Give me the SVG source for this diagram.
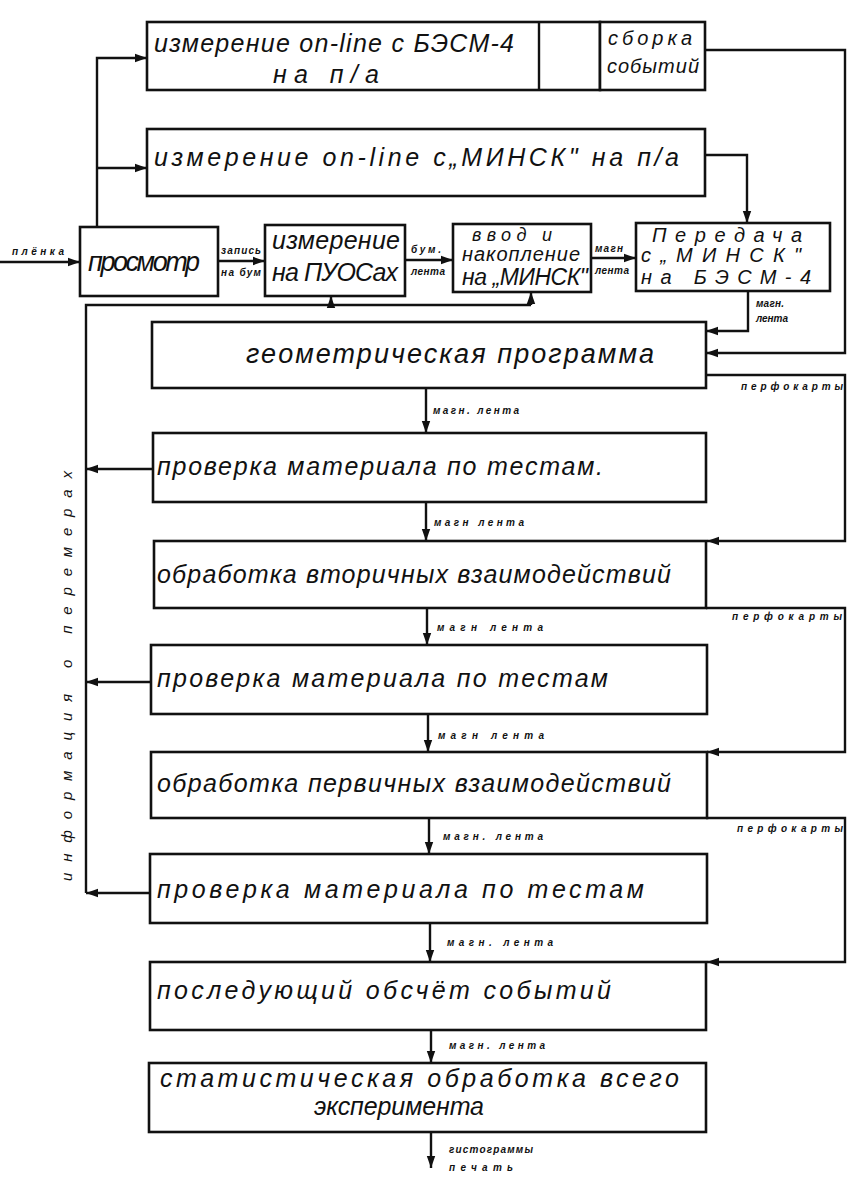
<svg xmlns="http://www.w3.org/2000/svg" width="848" height="1183" viewBox="0 0 848 1183">
<style>
.box{fill:#fff;stroke:#111;stroke-width:2.6}
.ln{fill:none;stroke:#111;stroke-width:2.4}
.ar{fill:none;stroke:#111;stroke-width:2.4;marker-end:url(#ah)}
.t{font-family:"Liberation Sans","DejaVu Sans",sans-serif;font-style:italic;font-size:25px;fill:#111}
.tb{font-family:"Liberation Sans","DejaVu Sans",sans-serif;font-style:italic;font-size:27px;fill:#111}
.m{font-family:"Liberation Sans","DejaVu Sans",sans-serif;font-style:italic;font-size:20px;fill:#111}
.s{font-family:"Liberation Sans","DejaVu Sans",sans-serif;font-style:italic;font-weight:bold;font-size:10px;fill:#111}
</style>
<defs>
<marker id="ah" viewBox="0 0 10 10" refX="10" refY="5" markerWidth="5" markerHeight="5" orient="auto" markerUnits="strokeWidth">
<path d="M0,1.5 L10,5 L0,8.5 z" fill="#111"/>
</marker>
</defs>
<rect width="848" height="1183" fill="#fff"/>

<g id="connectors">
<path class="ar" d="M0,262 H80"/>
<path class="ar" d="M218,261 H265"/>
<path class="ar" d="M405,260 H453"/>
<path class="ar" d="M591,258 H636"/>
<path class="ar" d="M97,227 V58 H147"/>
<path class="ar" d="M97,168 H147"/>
<path class="ar" d="M539,51 H600"/>
<path class="ar" d="M705,50 H845 V353 H706"/>
<path class="ar" d="M705,155 H747 V223"/>
<path class="ar" d="M748,291 V331 H706"/>
<path class="ar" d="M706,375 H845 V541 H707"/>
<path class="ar" d="M706,608 H845 V752 H707"/>
<path class="ar" d="M706,818 H845 V962 H707"/>
<path class="ar" d="M153,469 H86"/>
<path class="ar" d="M151,682 H86"/>
<path class="ar" d="M150,893 H86"/>
<path class="ln" d="M86,893 V305 H531"/>
<path class="ar" d="M531,305 V292"/>
<path class="ar" d="M331,305 V296"/>
<path class="ar" d="M426,388 V433"/>
<path class="ar" d="M426,502 V541"/>
<path class="ar" d="M427,608 V645"/>
<path class="ar" d="M428,714 V752"/>
<path class="ar" d="M429,818 V854"/>
<path class="ar" d="M430,923 V962"/>
<path class="ar" d="M431,1030 V1063"/>
<path class="ar" d="M431,1132 V1168"/>
<text class="s" x="12" y="255" textLength="52">плёнка</text>
<text class="s" x="221" y="254" textLength="40">запись</text>
<text class="s" x="221" y="276" textLength="40">на бум</text>
<text class="s" x="411" y="253" textLength="30">бум.</text>
<text class="s" x="411" y="275" textLength="34">лента</text>
<text class="s" x="595" y="252" textLength="28">магн</text>
<text class="s" x="595" y="274" textLength="34">лента</text>
<text class="s" x="756" y="307" textLength="28">магн.</text>
<text class="s" x="756" y="322" textLength="32">лента</text>
<text class="s" x="741" y="390" textLength="102">перфокарты</text>
<text class="s" x="732" y="620" textLength="110">перфокарты</text>
<text class="s" x="737" y="832" textLength="106">перфокарты</text>
<text class="s" x="433" y="414" textLength="86">магн. лента</text>
<text class="s" x="434" y="526" textLength="90">магн лента</text>
<text class="s" x="437" y="631" textLength="106">магн лента</text>
<text class="s" x="438" y="739" textLength="106">магн лента</text>
<text class="s" x="443" y="840" textLength="100">магн. лента</text>
<text class="s" x="447" y="946" textLength="106">магн. лента</text>
<text class="s" x="449" y="1049" textLength="96">магн. лента</text>
<text class="s" x="449" y="1153" textLength="84">гистограммы</text>
<text class="s" x="449" y="1171" textLength="64">печать</text>
<text class="s" x="0" y="0" transform="translate(72,676) rotate(-90)" text-anchor="middle" style="font-size:15px;font-weight:normal" textLength="410">информация о перемерах</text>
</g>

<g id="n-online-besm">
<rect class="box" x="147" y="22" width="453" height="68"/>
<line class="ln" x1="539" y1="22" x2="539" y2="90"/>
<text class="t" x="154" y="52" textLength="360">измерение on-line с БЭСМ-4</text>
<text class="t" x="273" y="83" textLength="106">на п/а</text>
</g>
<g id="n-sborka">
<rect class="box" x="600" y="22" width="105" height="68"/>
<text class="m" x="608" y="45" textLength="84">сборка</text>
<text class="m" x="607" y="73" textLength="92">событий</text>
</g>
<g id="n-online-minsk">
<rect class="box" x="147" y="129" width="558" height="67"/>
<text class="t" x="154" y="166" textLength="525">измерение on-line с„МИНСК" на п/а</text>
</g>
<g id="n-prosmotr">
<rect class="box" x="80" y="227" width="138" height="69"/>
<text class="tb" x="88" y="271" textLength="112">просмотр</text>
</g>
<g id="n-puos">
<rect class="box" x="265" y="225" width="140" height="71"/>
<text class="t" x="272" y="249" textLength="128">измерение</text>
<text class="t" x="272" y="281" textLength="126">на ПУОСах</text>
</g>
<g id="n-vvod">
<rect class="box" x="453" y="224" width="138" height="68"/>
<text class="m" x="472" y="241" style="font-size:18px" textLength="80">ввод и</text>
<text class="m" x="462" y="261" textLength="118">накопление</text>
<text class="t" x="462" y="285" style="font-size:23px" textLength="126">на „МИНСК"</text>
</g>
<g id="n-peredacha">
<rect class="box" x="636" y="223" width="194" height="68"/>
<text class="m" x="652" y="242" textLength="150">Передача</text>
<text class="m" x="641" y="262" textLength="160">с„МИНСК"</text>
<text class="m" x="641" y="284" textLength="170">на БЭСМ-4</text>
</g>
<g id="n-geom">
<rect class="box" x="152" y="322" width="554" height="66"/>
<text class="tb" x="246" y="363" textLength="408">геометрическая программа</text>
</g>
<g id="n-prov1">
<rect class="box" x="153" y="433" width="553" height="69"/>
<text class="t" x="157" y="475" textLength="446">проверка материала по тестам.</text>
</g>
<g id="n-obr2">
<rect class="box" x="154" y="541" width="552" height="67"/>
<text class="t" x="157" y="583" textLength="514">обработка вторичных взаимодействий</text>
</g>
<g id="n-prov2">
<rect class="box" x="151" y="645" width="556" height="69"/>
<text class="t" x="157" y="687" textLength="451">проверка материала по тестам</text>
</g>
<g id="n-obr1">
<rect class="box" x="151" y="752" width="556" height="66"/>
<text class="t" x="157" y="792" textLength="514">обработка первичных взаимодействий</text>
</g>
<g id="n-prov3">
<rect class="box" x="150" y="854" width="557" height="69"/>
<text class="t" x="157" y="898" textLength="487">проверка материала по тестам</text>
</g>
<g id="n-posl">
<rect class="box" x="150" y="962" width="556" height="68"/>
<text class="t" x="157" y="999" textLength="454">последующий обсчёт событий</text>
</g>
<g id="n-stat">
<rect class="box" x="149" y="1063" width="557" height="69"/>
<text class="t" x="160" y="1087" textLength="519">статистическая обработка всего</text>
<text class="t" x="314" y="1115" textLength="170">эксперимента</text>
</g>
</svg>
